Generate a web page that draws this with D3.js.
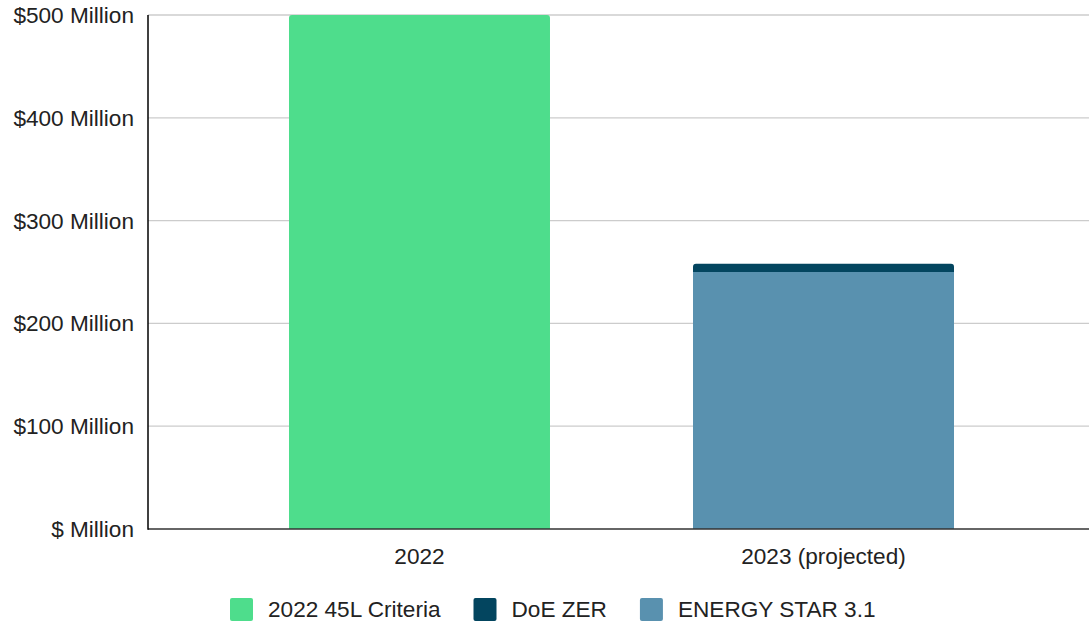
<!DOCTYPE html>
<html>
<head>
<meta charset="utf-8">
<script src="https://cdn.jsdelivr.net/npm/d3@7"></script>
<style>
  body { margin: 0; background: #fff; }
  text { font-family: "Liberation Sans", Arial, sans-serif; fill: #222; }
</style>
</head>
<body>
<div id="chart"></div>
<script>
// data (millions of dollars)
var categories = ["2022", "2023 (projected)"];
var criteria45L = [500, 0];
var energyStar = [0, 250];
var doeZER = [0, 8];
var yTicks = [0, 100, 200, 300, 400, 500];

var seriesNames = ["2022 45L Criteria", "DoE ZER", "ENERGY STAR 3.1"];
var colors = {
  "2022 45L Criteria": "#4edd8c",
  "DoE ZER": "#03455f",
  "ENERGY STAR 3.1": "#5991af"
};

var svgWidth = 1089;
var svgHeight = 624;
var fontSize = "22.6px";

var svg = d3.select("#chart")
  .append("svg")
  .attr("width", svgWidth)
  .attr("height", svgHeight);

var plotLeft = 148, plotRight = 1089, plotTop = 15, plotBottom = 529;

var x = d3.scaleBand()
  .domain(categories)
  .range([plotLeft, 1095])
  .paddingInner(0.354)
  .paddingOuter(0.349);

var y = d3.scaleLinear()
  .domain([0, 500])
  .range([plotBottom, plotTop]);

// gridlines
svg.append("g")
  .selectAll("line")
  .data(yTicks.filter(d => d > 0))
  .enter()
  .append("line")
  .attr("x1", plotLeft)
  .attr("x2", plotRight)
  .attr("y1", d => y(d))
  .attr("y2", d => y(d))
  .attr("stroke", "#cccccc")
  .attr("stroke-width", 1.3);

// stacked bars, bottom to top
var table = categories.map((c, i) => ({
  cat: c,
  "2022 45L Criteria": criteria45L[i],
  "ENERGY STAR 3.1": energyStar[i],
  "DoE ZER": doeZER[i]
}));
var stackOrder = ["2022 45L Criteria", "ENERGY STAR 3.1", "DoE ZER"];
var stacked = d3.stack().keys(stackOrder)(table);

function topRounded(x0, y0, w, h, r) {
  r = Math.min(r, h / 2, w / 2);
  return `M${x0},${y0 + h}V${y0 + r}Q${x0},${y0} ${x0 + r},${y0}` +
    `H${x0 + w - r}Q${x0 + w},${y0} ${x0 + w},${y0 + r}V${y0 + h}Z`;
}

stacked.forEach(function(layer) {
  svg.append("g")
    .attr("fill", colors[layer.key])
    .selectAll("path")
    .data(layer.filter(d => d[1] - d[0] > 0))
    .enter()
    .append("path")
    .attr("d", function(d) {
      var isTop = layer.key === "DoE ZER" || d.data.cat === "2022";
      var yTop = y(d[1]);
      var h = y(d[0]) - y(d[1]);
      return topRounded(x(d.data.cat), yTop, x.bandwidth(), h, isTop ? 3 : 0);
    });
});

// axes lines
svg.append("line")
  .attr("x1", plotLeft).attr("x2", plotRight)
  .attr("y1", plotBottom).attr("y2", plotBottom)
  .attr("stroke", "#333").attr("stroke-width", 1.5);

svg.append("line")
  .attr("x1", plotLeft).attr("x2", plotLeft)
  .attr("y1", plotTop).attr("y2", plotBottom + 0.75)
  .attr("stroke", "#000").attr("stroke-width", 1.5);

// y tick labels
svg.append("g")
  .selectAll("text")
  .data(yTicks)
  .enter()
  .append("text")
  .attr("x", 134)
  .attr("y", d => y(d) + 8)
  .attr("text-anchor", "end")
  .style("font-size", fontSize)
  .text(d => d === 0 ? "$ Million" : "$" + d + " Million");

// x labels
svg.append("g")
  .selectAll("text")
  .data(categories)
  .enter()
  .append("text")
  .attr("x", d => x(d) + x.bandwidth() / 2)
  .attr("y", 564)
  .attr("text-anchor", "middle")
  .style("font-size", fontSize)
  .text(d => d);

// legend
var legend = svg.append("g");
var lx = 230;
seriesNames.forEach(function(name) {
  legend.append("rect")
    .attr("x", lx)
    .attr("y", 598)
    .attr("width", 23)
    .attr("height", 23)
    .attr("rx", 2)
    .attr("fill", colors[name]);
  var t = legend.append("text")
    .attr("x", lx + 38)
    .attr("y", 617)
    .style("font-size", fontSize)
    .text(name);
  lx = lx + 38 + t.node().getComputedTextLength() + 33;
});
</script>
</body>
</html>
